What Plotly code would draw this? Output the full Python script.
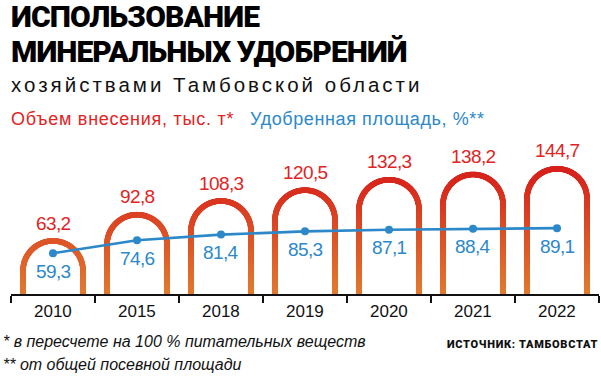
import numpy as np
import plotly.graph_objects as go

years = ["2010", "2015", "2018", "2019", "2020", "2021", "2022"]
volume = [63.2, 92.8, 108.3, 120.5, 132.3, 138.2, 144.7]      # тыс. т
area_pct = [59.3, 74.6, 81.4, 85.3, 87.1, 88.4, 89.1]         # %
vol_labels = ["63,2", "92,8", "108,3", "120,5", "132,3", "138,2", "144,7"]
pct_labels = ["59,3", "74,6", "81,4", "85,3", "87,1", "88,4", "89,1"]

W, H = 601, 376
PL, PR = 11, 599          # plot area pixels (x)
PT, PB = 140, 294         # plot area pixels (y)
PX_PER_CAT = (PR - PL) / len(years)
Y_PX = 0.885              # px per unit on volume axis
Y_RANGE = [0, (PB - PT) / Y_PX]
Y2_PX = 0.84
Y2_LOW = 10.7
Y2_RANGE = [Y2_LOW, Y2_LOW + (PB - PT) / Y2_PX]

RED_TXT = "#e2231f"
BLUE = "#2c88c9"
BOLD = "Roboto, Liberation Sans, Arial, sans-serif"
REG = "Liberation Sans, Arial, sans-serif"

fig = go.Figure()

# arches (stroke built from dense markers so that the colour can follow a vertical gradient)
R_PX = 30.0
STROKE = 5.6
rx = R_PX / PX_PER_CAT
ry = R_PX / Y_PX
top_off = (STROKE / 2) / Y_PX
ax, ay = [], []
step = 0.6
for i, v in enumerate(volume):
    top_c = v - top_off
    yc = top_c - ry
    leg_px = yc * Y_PX
    n_leg = int(leg_px / step) + 2
    leg = np.linspace(-3, yc, n_leg)
    ax += list(np.full(n_leg, i - rx)); ay += list(leg)
    n_arc = int(np.pi * R_PX / step) + 2
    t = np.linspace(np.pi, 0, n_arc)
    ax += list(i + rx * np.cos(t)); ay += list(yc + ry * np.sin(t))
    ax += list(np.full(n_leg, i + rx)); ay += list(leg[::-1])

fig.add_trace(go.Scatter(
    x=ax, y=ay, mode="markers", hoverinfo="skip", cliponaxis=True,
    marker=dict(size=STROKE, color=ay, cmin=0, cmax=150,
                colorscale=[[0, "#e27a30"], [0.42, "#dd5427"], [0.8, "#d82c1f"], [1, "#d51e1c"]],
                line=dict(width=0), showscale=False),
    showlegend=False))

x_idx = list(range(len(years)))
fig.add_trace(go.Scatter(
    x=x_idx, y=area_pct, yaxis="y2", mode="lines+markers", hoverinfo="skip",
    line=dict(color=BLUE, width=2.6), marker=dict(color=BLUE, size=8),
    showlegend=False))

ann = []
for i, (v, lab) in enumerate(zip(volume, vol_labels)):
    ann.append(dict(x=i, y=v, xref="x", yref="y",
                    text=f'<span style="letter-spacing:-0.6px">{lab}</span>', showarrow=False,
                    yanchor="middle", yshift=15, font=dict(family=REG, size=19, color=RED_TXT)))
for i, (p, lab) in enumerate(zip(area_pct, pct_labels)):
    ann.append(dict(x=i, y=p, xref="x", yref="y2",
                    text=f'<span style="letter-spacing:-0.6px">{lab}</span>', showarrow=False,
                    yanchor="middle", yshift=-18, font=dict(family=REG, size=19, color=BLUE)))
for i, yr in enumerate(years):
    ann.append(dict(x=i, y=0, xref="x", yref="y", text=yr, showarrow=False,
                    yanchor="middle", yshift=-17, font=dict(family=REG, size=17, color="#111111")))

def px2p(px, py):
    return (px - PL) / (PR - PL), (PB - py) / (PB - PT)

def text_at(text, px, py, size, color, family, xanchor="left"):
    x, y = px2p(px, py)
    ann.append(dict(x=x, y=y, xref="paper", yref="paper", text=text, showarrow=False,
                    xanchor=xanchor, yanchor="middle", font=dict(family=family, size=size, color=color)))

TSTYLE = "letter-spacing:-0.9px;font-weight:900"
text_at(f'<span style="{TSTYLE}">ИСПОЛЬЗОВАНИЕ</span>', 9, 16, 30, "#000000", BOLD)
text_at(f'<span style="{TSTYLE}">МИНЕРАЛЬНЫХ УДОБРЕНИЙ</span>', 9, 51, 30, "#000000", BOLD)
text_at('<span style="letter-spacing:3.0px">хозяйствами Тамбовской области</span>', 9, 84, 20.5, "#111111", REG)
text_at('<span style="letter-spacing:0.75px">Объем внесения, тыс. т*</span>', 9, 119, 18, RED_TXT, REG)
text_at('<span style="letter-spacing:0.6px">Удобренная площадь, %**</span>', 248, 119, 18, BLUE, REG)
text_at("<i>* в пересчете на 100 % питательных веществ</i>", 1, 341, 16, "#111111", REG)
text_at("<i>** от общей посевной площади</i>", 1, 364, 16, "#111111", REG)
text_at('<span style="letter-spacing:0.7px;font-weight:900">ИСТОЧНИК: ТАМБОВСТАТ</span>', 600, 344, 11, "#111111", BOLD, xanchor="right")

fig.update_layout(
    width=W, height=H,
    margin=dict(l=PL, r=W - PR, t=PT, b=H - PB, pad=0),
    paper_bgcolor="white", plot_bgcolor="white",
    xaxis=dict(range=[-0.5, len(years) - 0.5], showgrid=False, zeroline=False,
               showline=True, linecolor="#111111", linewidth=1.6,
               tickmode="array", tickvals=[k - 0.5 for k in range(len(years) + 1)],
               ticks="outside", ticklen=7, tickwidth=1.4, tickcolor="#111111",
               showticklabels=False, fixedrange=True),
    yaxis=dict(range=Y_RANGE, visible=False, fixedrange=True),
    yaxis2=dict(range=Y2_RANGE, overlaying="y", visible=False, fixedrange=True),
    annotations=ann,
    hovermode=False,
)

fig.write_html("out.html", config={"displayModeBar": False, "staticPlot": True},
               post_script="document.body.style.margin='0';")
